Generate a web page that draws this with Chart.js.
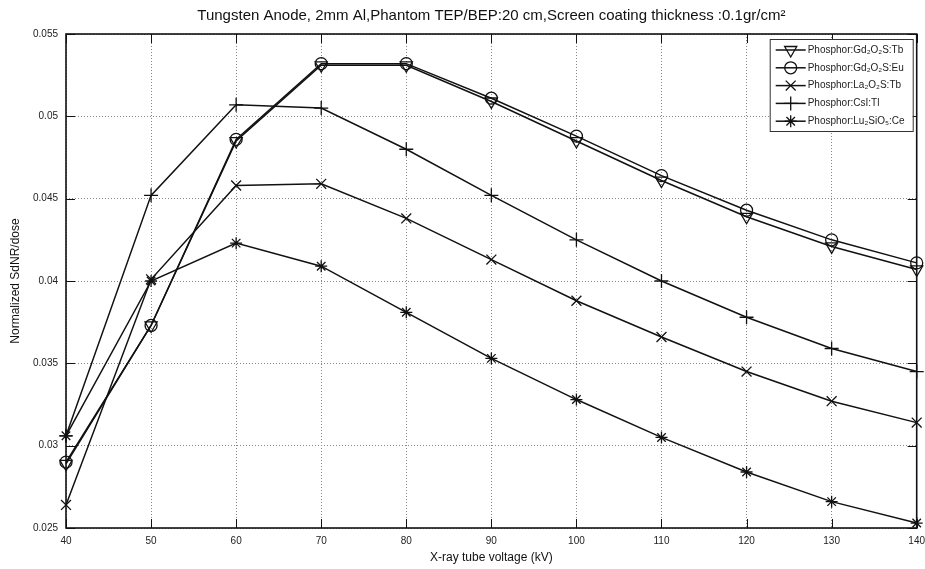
<!DOCTYPE html>
<html>
<head>
<meta charset="utf-8">
<script src="https://cdn.jsdelivr.net/npm/chart.js@4.4.1/dist/chart.umd.min.js"></script>
<style>
  html, body { margin: 0; padding: 0; background: #fff; }
  #contenedor { width: 925px; height: 569px; }
</style>
</head>
<body>
<div id="contenedor"><canvas id="graficoSdNR"></canvas></div>
<script>
// Tensión del tubo (kV)
const voltajes = [40, 50, 60, 70, 80, 90, 100, 110, 120, 130, 140];

// SdNR/dosis normalizado por fósforo
const gdTb = [0.0289, 0.0373, 0.0485, 0.0531, 0.0531, 0.0509, 0.0485, 0.0461, 0.0439, 0.0421, 0.0407];
const gdEu = [0.0290, 0.0373, 0.0486, 0.0532, 0.0532, 0.0511, 0.0488, 0.0464, 0.0443, 0.0425, 0.0411];
const laTb = [0.0264, 0.0401, 0.0458, 0.0459, 0.0438, 0.0413, 0.0388, 0.0366, 0.0345, 0.0327, 0.0314];
const csiTl = [0.0306, 0.0452, 0.0507, 0.0505, 0.0480, 0.0452, 0.0425, 0.0400, 0.0378, 0.0359, 0.0345];
const luCe = [0.0306, 0.0400, 0.0423, 0.0409, 0.0381, 0.0353, 0.0328, 0.0305, 0.0284, 0.0266, 0.0253];

const nombres = [
  "Phosphor:Gd₂O₂S:Tb",
  "Phosphor:Gd₂O₂S:Eu",
  "Phosphor:La₂O₂S:Tb",
  "Phosphor:CsI:Tl",
  "Phosphor:Lu₂SiO₅:Ce"
];

const yTicks = [0.025, 0.03, 0.035, 0.04, 0.045, 0.05, 0.055];

const fuente = "'Liberation Sans', Arial, sans-serif";
const negro = "#111";

// estilo de marcador por serie
const marcadores = [
  { pointStyle: "triangle", radius: 7, rotation: 180 },
  { pointStyle: "circle", radius: 6, rotation: 0 },
  { pointStyle: "crossRot", radius: 7, rotation: 0 },
  { pointStyle: "cross", radius: 7, rotation: 0 },
  { pointStyle: "star", radius: 6, rotation: 0 }
];

const series = [gdTb, gdEu, laTb, csiTl, luCe];

const datasets = series.map((valores, i) => ({
  label: nombres[i],
  data: valores.map((v, j) => ({ x: voltajes[j], y: v })),
  borderColor: negro,
  borderWidth: 1.5,
  backgroundColor: "rgba(0,0,0,0)",
  pointStyle: marcadores[i].pointStyle,
  pointRadius: marcadores[i].radius,
  pointRotation: marcadores[i].rotation,
  pointBorderColor: negro,
  pointBorderWidth: 1.3,
  pointBackgroundColor: "rgba(0,0,0,0)",
  tension: 0,
  clip: false
}));

// marco del área, marcas interiores y leyenda
const marcoYLeyenda = {
  id: "marcoYLeyenda",
  afterDatasetsDraw(chart) {
    const ctx = chart.ctx;
    const a = chart.chartArea;
    const sx = chart.scales.x;
    const sy = chart.scales.y;
    ctx.save();

    ctx.strokeStyle = negro;
    ctx.lineWidth = 1;
    ctx.beginPath();
    voltajes.forEach(v => {
      const px = Math.round(sx.getPixelForValue(v)) + 0.5;
      ctx.moveTo(px, a.bottom); ctx.lineTo(px, a.bottom - 9);
      ctx.moveTo(px, a.top); ctx.lineTo(px, a.top + 9);
    });
    yTicks.forEach(v => {
      const py = Math.round(sy.getPixelForValue(v)) + 0.5;
      ctx.moveTo(a.left, py); ctx.lineTo(a.left + 9, py);
      ctx.moveTo(a.right, py); ctx.lineTo(a.right - 9, py);
    });
    ctx.stroke();

    ctx.lineWidth = 1.6;
    ctx.strokeRect(a.left, a.top, a.right - a.left, a.bottom - a.top);

    // leyenda
    const ancho = 143, alto = 92;
    const x0 = a.right - ancho - 4;
    const y0 = a.top + 5;
    ctx.fillStyle = "#fff";
    ctx.fillRect(x0, y0, ancho, alto);
    ctx.lineWidth = 1;
    ctx.strokeStyle = "#333";
    ctx.strokeRect(x0 + 0.5, y0 + 0.5, ancho, alto);

    ctx.font = "10px " + fuente;
    ctx.textBaseline = "middle";
    ctx.textAlign = "left";
    nombres.forEach((nombre, i) => {
      const y = y0 + 11 + i * 17.8;
      ctx.strokeStyle = negro;
      ctx.lineWidth = 1.5;
      ctx.beginPath();
      ctx.moveTo(x0 + 6, y);
      ctx.lineTo(x0 + 36, y);
      ctx.stroke();
      ctx.lineWidth = 1.3;
      ctx.fillStyle = "rgba(0,0,0,0)";
      Chart.helpers.drawPoint(ctx, {
        pointStyle: marcadores[i].pointStyle,
        radius: marcadores[i].radius,
        rotation: marcadores[i].rotation,
        borderWidth: 1.3
      }, x0 + 21, y);
      ctx.fillStyle = "#222";
      ctx.fillText(nombre, x0 + 38, y);
    });
    ctx.restore();
  }
};

new Chart(document.getElementById("graficoSdNR"), {
  type: "line",
  data: { datasets },
  plugins: [marcoYLeyenda],
  options: {
    responsive: true,
    maintainAspectRatio: false,
    animation: false,
    layout: { padding: { top: 0, right: 6, bottom: 0, left: 0 } },
    plugins: {
      legend: { display: false },
      tooltip: { enabled: false },
      title: {
        display: true,
        fullSize: false,
        text: "Tungsten Anode, 2mm Al,Phantom TEP/BEP:20 cm,Screen coating thickness :0.1gr/cm²",
        color: "#111",
        font: { family: fuente, size: 15, weight: "normal" },
        padding: { top: 7, bottom: 9 }
      }
    },
    scales: {
      x: {
        type: "linear",
        min: 40,
        max: 140,
        afterFit: s => { s.height = 41; s.paddingLeft = 0; s.paddingRight = 0; },
        ticks: {
          stepSize: 10,
          color: "#222",
          padding: 7,
          font: { family: fuente, size: 10 }
        },
        grid: {
          color: "#888",
          lineWidth: 1,
          drawTicks: false
        },
        border: { display: false, dash: [1, 2] },
        title: {
          display: true,
          text: "X-ray tube voltage (kV)",
          color: "#111",
          font: { family: fuente, size: 12 },
          padding: { top: 0, bottom: 4 }
        }
      },
      y: {
        min: 0.025,
        max: 0.055,
        afterFit: s => { s.width = 66; },
        afterBuildTicks: s => { s.ticks = yTicks.map(v => ({ value: v })); },
        ticks: {
          color: "#222",
          padding: 8,
          font: { family: fuente, size: 10 },
          callback: v => String(+v.toFixed(3))
        },
        grid: {
          color: "#888",
          lineWidth: 1,
          drawTicks: false
        },
        border: { display: false, dash: [1, 2] },
        title: {
          display: true,
          text: "Normalized SdNR/dose",
          color: "#111",
          font: { family: fuente, size: 12 },
          padding: { top: 8, bottom: 0 }
        }
      }
    }
  }
});
</script>
</body>
</html>
